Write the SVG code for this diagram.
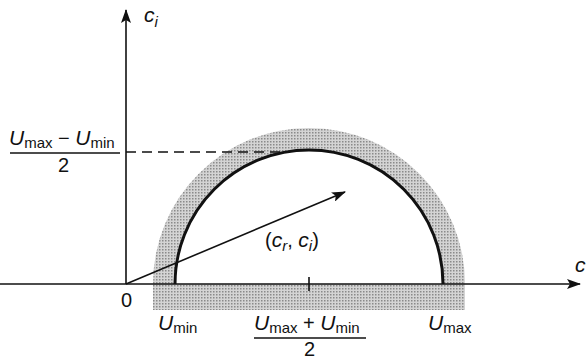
<svg xmlns="http://www.w3.org/2000/svg" width="587" height="359" viewBox="0 0 587 359">
<style>
text{font-family:"Liberation Sans",Arial,sans-serif;fill:#111}
.v{font-style:italic;font-size:21px}
.s{font-size:15px;font-style:normal}
.si{font-size:15px;font-style:italic}
.n{font-size:20px;font-style:normal}
.ax{stroke:#111;stroke-width:1.6;fill:none}
</style>
<defs>
<pattern id="dots" width="3" height="3" patternUnits="userSpaceOnUse">
<rect width="3" height="3" fill="#d4d4d4"/>
<rect width="1.5" height="1.5" fill="#8a8a8a"/>
</pattern>
<marker id="ah" viewBox="0 0 14 10" refX="13" refY="5" markerWidth="14" markerHeight="10" markerUnits="userSpaceOnUse" orient="auto">
<path d="M0,0 L14,5 L0,10 L3,5 Z" fill="#111"/>
</marker>
</defs>
<g id="band">
<path d="M153,310 L153,284 A156,156 0 0 1 465,284 L465,310 Z" fill="url(#dots)"/>
<path d="M175,284 A134,134 0 0 1 443,284 Z" fill="#fff"/>
</g>
<g id="connectors">
<line class="ax" x1="126" y1="284" x2="126" y2="10" marker-end="url(#ah)"/>
<line class="ax" x1="0" y1="284" x2="580" y2="284" marker-end="url(#ah)"/>
<line x1="126" y1="152" x2="290" y2="152" stroke="#111" stroke-width="1.5" stroke-dasharray="10,6"/>
<line class="ax" x1="126" y1="284" x2="345" y2="192" marker-end="url(#ah)"/>
<line class="ax" x1="309" y1="277" x2="309" y2="291"/>
</g>
<g id="circle">
<path d="M175,284 A134,134 0 0 1 443,284" fill="none" stroke="#111" stroke-width="3"/>
</g>
<g id="labels">
<text class="v" x="144" y="22">c<tspan class="si" dy="5">i</tspan></text>
<text class="v" x="575" y="272">c</text>
<text class="n" x="121" y="307">0</text>
<text class="v" x="158" y="330">U<tspan class="s" dy="3">min</tspan></text>
<text class="v" x="428" y="330">U<tspan class="s" dy="3">max</tspan></text>
<text class="v" x="254" y="330">U<tspan class="s" dy="3">max</tspan><tspan class="n" dy="-3"> + </tspan>U<tspan class="s" dy="3">min</tspan></text>
<line x1="254" y1="338" x2="366" y2="338" stroke="#111" stroke-width="1.5"/>
<text class="n" x="304" y="356">2</text>
<text class="v" x="9" y="145">U<tspan class="s" dy="3">max</tspan><tspan class="n" dy="-3"> − </tspan>U<tspan class="s" dy="3">min</tspan></text>
<line x1="10" y1="153" x2="120" y2="153" stroke="#111" stroke-width="1.5"/>
<text class="n" x="58" y="172">2</text>
<text class="v" x="265" y="247"><tspan class="n">(</tspan>c<tspan class="si" dy="4">r</tspan><tspan class="n" dy="-4">, </tspan>c<tspan class="si" dy="4">i</tspan><tspan class="n" dy="-4">)</tspan></text>
</g>
</svg>
